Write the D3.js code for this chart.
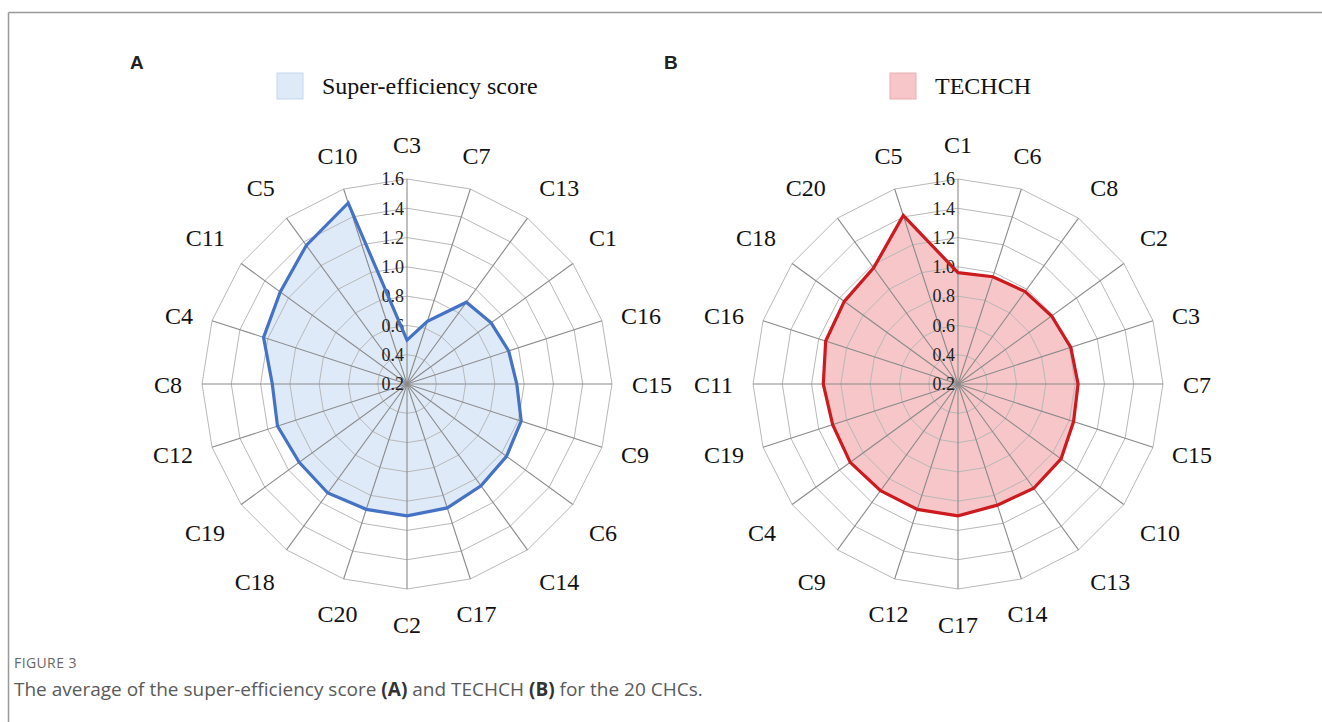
<!DOCTYPE html>
<html><head><meta charset="utf-8">
<script src="https://cdn.jsdelivr.net/npm/d3@7"></script>
<style>
body{margin:0;background:#fff;}
svg{display:block;}
</style></head>
<body>
<svg id="chart" width="1322" height="722"></svg>
<script>
// ---- Data ----
const categoriesA = ["C3","C7","C13","C1","C16","C15","C9","C6","C14","C17","C2","C20","C18","C19","C12","C8","C4","C11","C5","C10"];
const valuesA     = [0.50,0.65,0.89,0.91,0.93,0.95,1.02,1.04,1.06,1.09,1.10,1.10,1.12,1.11,1.13,1.12,1.23,1.27,1.37,1.50];
const categoriesB = ["C1","C6","C8","C2","C3","C7","C15","C10","C13","C14","C17","C12","C9","C4","C19","C11","C16","C18","C20","C5"];
const valuesB     = [0.96,0.97,0.98,0.99,1.01,1.02,1.03,1.07,1.08,1.07,1.10,1.10,1.10,1.11,1.10,1.12,1.15,1.16,1.18,1.41];
const tickValues  = [0.2,0.4,0.6,0.8,1.0,1.2,1.4,1.6];
const seriesNameA = "Super-efficiency score";
const seriesNameB = "TECHCH";

const svg = d3.select("#chart");

// frame
svg.append("line").attr("x1",8.5).attr("y1",12.5).attr("x2",1322).attr("y2",12.5).attr("stroke","#999").attr("stroke-width",1.5);
svg.append("line").attr("x1",8.5).attr("y1",12.5).attr("x2",8.5).attr("y2",722).attr("stroke","#999").attr("stroke-width",1.5);

const R = 205;
const r = d3.scaleLinear().domain([0.2,1.6]).range([0,R]);

function radar(cx, cy, cats, vals, opt){
  const g = svg.append("g").attr("transform",`translate(${cx},${cy})`);
  const n = cats.length;
  const ang = d3.scaleLinear().domain([0,n]).range([0,2*Math.PI]);
  const pt = (i,v)=>[r(v)*Math.sin(ang(i)), -r(v)*Math.cos(ang(i))];

  // fill
  const line = d3.line().curve(d3.curveLinearClosed);
  g.append("path").attr("d", line(vals.map((v,i)=>pt(i,v))))
    .attr("fill", opt.fill).attr("stroke","none");

  // rings
  tickValues.slice(1).forEach(t=>{
    g.append("path").attr("d", line(cats.map((c,i)=>pt(i,t))))
      .attr("fill","none").attr("stroke", "#b8b8b8").attr("stroke-width",1);
  });
  // spokes
  cats.forEach((c,i)=>{
    const [x,y] = pt(i,1.6);
    g.append("line").attr("x1",0).attr("y1",0).attr("x2",x).attr("y2",y)
      .attr("stroke","#8a8a8a").attr("stroke-width",1.1);
  });
  // tick labels
  tickValues.forEach(t=>{
    g.append("text").attr("x",-3).attr("y",-r(t)).attr("dy","0.35em")
      .attr("text-anchor","end")
      .attr("font-family","'Liberation Serif','Times New Roman',serif")
      .attr("font-size",18).attr("fill","#222").text(t.toFixed(1));
  });
  // series line
  g.append("path").attr("d", line(vals.map((v,i)=>pt(i,v))))
    .attr("fill","none").attr("stroke", opt.stroke).attr("stroke-width",3.2)
    .attr("stroke-linejoin","miter");

  // category labels: box anchored outside radius 225
  const LR = 225, halfH = 15;
  cats.forEach((c,i)=>{
    const a = ang(i), s = Math.sin(a), co = Math.cos(a);
    const t = g.append("text")
      .attr("font-family","'Liberation Serif','Times New Roman',serif")
      .attr("font-size",24).attr("fill","#111")
      .attr("text-anchor","middle").attr("dy","0.35em").text(c);
    const w = t.node().getComputedTextLength();
    const ox = Math.abs(s) > 0.4 ? Math.sign(s)*w/2 : 0;
    const oy = Math.abs(co) > 0.4 ? -Math.sign(co)*halfH : 0;
    t.attr("x", LR*s + ox).attr("y", -LR*co + oy + 1);
  });

  // legend
  svg.append("rect").attr("x",opt.legX).attr("y",73).attr("width",26).attr("height",26)
    .attr("fill",opt.fill).attr("stroke",opt.legStroke).attr("stroke-width",1);
  svg.append("text").attr("x",opt.legX+45).attr("y",86).attr("dy","0.35em")
    .attr("font-family","'Liberation Serif','Times New Roman',serif")
    .attr("font-size",24).attr("fill","#111").text(opt.name);
  // panel letter
  svg.append("text").attr("x",opt.letterX).attr("y",69)
    .attr("font-family","'Liberation Sans',Arial,sans-serif").attr("font-weight","bold")
    .attr("font-size",19).attr("fill","#222").text(opt.letter);
}

radar(407, 384, categoriesA, valuesA, {fill:"#deeaf8", stroke:"#4472c4", legStroke:"#c5d6ee", name:seriesNameA, legX:277, letter:"A", letterX:130});
radar(958, 384, categoriesB, valuesB, {fill:"#f6c6c8", stroke:"#cc1a1f", legStroke:"#e8aeb0", name:seriesNameB, legX:890, letter:"B", letterX:664});

// caption
svg.append("text").attr("x",14).attr("y",668)
  .attr("font-family","'Open Sans','Noto Sans',sans-serif").attr("font-size",14)
  .attr("letter-spacing",0.4)
  .attr("fill","#666").text("FIGURE 3");
const cap = svg.append("text").attr("x",14).attr("y",696)
  .attr("font-family","'Open Sans','Noto Sans',sans-serif").attr("font-size",19)
  .attr("fill","#5a5a5a");
cap.append("tspan").text("The average of the super-efficiency score ");
cap.append("tspan").attr("font-weight","bold").attr("fill","#333").text("(A)");
cap.append("tspan").text(" and TECHCH ");
cap.append("tspan").attr("font-weight","bold").attr("fill","#333").text("(B)");
cap.append("tspan").text(" for the 20 CHCs.");
</script>
</body></html>
